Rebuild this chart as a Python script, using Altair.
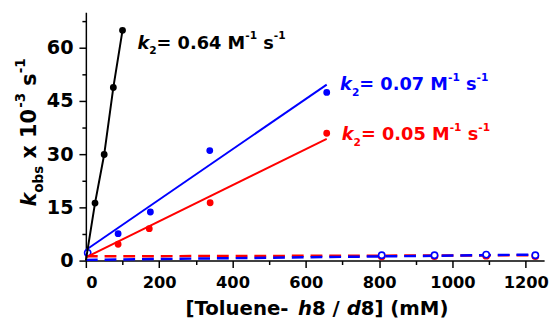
import altair as alt
import pandas as pd

# ---------------- data ----------------
black_x = [25, 50, 75, 100]
black_y = [16.2, 29.9, 48.8, 64.9]
black_line_x = [0, 25, 50, 75, 100]
black_line_y = [0.0, 16.2, 29.9, 48.8, 64.9]

blue_x = [88, 176, 338, 657]
blue_y = [7.6, 13.7, 31.0, 47.4]
blue_fit_x = [0, 657]
blue_fit_y = [3.0, 49.6]

red_x = [88, 173, 339, 657]
red_y = [4.6, 9.0, 16.3, 35.9]
red_fit_x = [0, 657]
red_fit_y = [0.9, 34.3]

blue_d_x = [5, 807, 951, 1092, 1226]
blue_d_y = [2.2, 1.5, 1.5, 1.7, 1.5]
blue_dfit_x = [0, 1230]
blue_dfit_y = [0.2, 1.7]

red_d_x = [807, 951, 1092, 1226]
red_d_y = [1.2, 1.3, 1.4, 1.3]
red_dfit_x = [0, 1230]
red_dfit_y = [1.2, 1.5]

x_major = [0, 200, 400, 600, 800, 1000, 1200]
x_minor = [100, 300, 500, 700, 900, 1100]
y_major = [0, 15, 30, 45, 60]
y_minor = [7.5, 22.5, 37.5, 52.5, 67.5]

BLACK, BLUE, RED = "#000000", "#0000FF", "#FF0000"
FONT = "DejaVu Sans"
W_PLOT, H_PLOT = 465, 252
OX, OY = 87, 10  # absolute page position of the plot origin

xs = alt.Scale(domain=[0, 1250], nice=False, zero=False)
ys = alt.Scale(domain=[0, 70], nice=False, zero=False)


def df(xv, yv):
    return pd.DataFrame({"x": xv, "y": yv})


def enc(chart, axis_x=None, axis_y=None):
    return chart.encode(
        x=alt.X("x:Q", scale=xs, axis=axis_x),
        y=alt.Y("y:Q", scale=ys, axis=axis_y),
    )


layers = []

# dashed lines (red under blue)
layers.append(enc(alt.Chart(df(red_dfit_x, red_dfit_y)).mark_line(
    color=RED, strokeWidth=2.5, strokeDash=[12, 7])))
layers.append(enc(alt.Chart(df(red_d_x, red_d_y)).mark_point(
    shape="circle", filled=True, fill="white", stroke=RED, strokeWidth=1.6, size=40, opacity=1)))
layers.append(enc(alt.Chart(df(blue_dfit_x, blue_dfit_y)).mark_line(
    color=BLUE, strokeWidth=2.5, strokeDash=[12, 7])))
layers.append(enc(alt.Chart(df(blue_d_x, blue_d_y)).mark_point(
    shape="circle", filled=True, fill="white", stroke=BLUE, strokeWidth=1.6, size=40, opacity=1)))

# fit lines
layers.append(enc(alt.Chart(df(red_fit_x, red_fit_y)).mark_line(color=RED, strokeWidth=2)))
layers.append(enc(alt.Chart(df(blue_fit_x, blue_fit_y)).mark_line(color=BLUE, strokeWidth=2)))
layers.append(enc(alt.Chart(df(black_line_x, black_line_y)).mark_line(color=BLACK, strokeWidth=2)))

# filled points
layers.append(enc(alt.Chart(df(red_x, red_y)).mark_circle(color=RED, size=48, opacity=1)))
layers.append(enc(alt.Chart(df(blue_x, blue_y)).mark_circle(color=BLUE, size=48, opacity=1)))

# black points carry the major axes
major_x_axis = alt.Axis(values=x_major, orient="bottom", title=None, grid=False,
                        tickSize=7, labelPadding=7, labelFontSize=16.5, format="d")
major_y_axis = alt.Axis(values=y_major, orient="left", title=None, grid=False,
                        tickSize=7, labelPadding=6, labelFontSize=19.5, format="d")
layers.append(enc(alt.Chart(df(black_x, black_y)).mark_circle(color=BLACK, size=48, opacity=1),
                  major_x_axis, major_y_axis))

# invisible layer carrying the minor ticks
minor_x_axis = alt.Axis(values=x_minor, orient="bottom", title=None, grid=False,
                        labels=False, domain=False, tickSize=4)
minor_y_axis = alt.Axis(values=y_minor, orient="left", title=None, grid=False,
                        labels=False, domain=False, tickSize=4)
layers.append(enc(alt.Chart(df(black_x, black_y)).mark_point(opacity=0),
                  minor_x_axis, minor_y_axis))

# ---------------- rich text built from pieces ----------------
WID = {" ": 0.348, "0": 0.696, "1": 0.696, "2": 0.696, "3": 0.696, "4": 0.696,
       "5": 0.696, "6": 0.696, "7": 0.696, "8": 0.696, "9": 0.696, ".": 0.382,
       "=": 0.838, "M": 0.996, "s": 0.595, "k": 0.665, "-": 0.415, "x": 0.712,
       "o": 0.686, "b": 0.716, "[": 0.457, "]": 0.457, "T": 0.682, "l": 0.343,
       "u": 0.712, "e": 0.678, "n": 0.712, "h": 0.712, "/": 0.365, "d": 0.716,
       "(": 0.457, ")": 0.457, "m": 1.042}


def tw(s, size):
    return sum(WID.get(c, 0.6) for c in s) * size


def rich(parts, F, color, ax, ay, angle=0):
    """parts: (text, size factor, italic, shift factor up). ax, ay in plot coords."""
    out = []
    cur = 0.0
    for text, sf, ital, sh in parts:
        size = F * sf
        lead = len(text) - len(text.lstrip(" "))
        core = text.strip(" ")
        start = cur + tw(" " * lead, size)
        if angle == 0:
            px, py = ax + start, ay - sh * F
        else:
            px, py = ax - sh * F, ay - start
        out.append(
            alt.Chart(pd.DataFrame({"t": [core]})).mark_text(
                align="left", baseline="alphabetic", font=FONT, fontSize=size,
                fontWeight="bold", fontStyle="italic" if ital else "normal",
                color=color, angle=angle,
            ).encode(text="t:N", x=alt.value(px), y=alt.value(py))
        )
        cur += tw(text, size)
    return out, cur


def k2_parts(val):
    return [("k", 1, True, 0), ("2", 0.6, False, -0.3), ("= " + val + " M", 1, False, 0),
            ("-1", 0.6, False, 0.55), (" s", 1, False, 0), ("-1", 0.6, False, 0.55)]


AF = 18
t, _ = rich(k2_parts("0.64"), AF, BLACK, 139.3 - OX, 47 - OY)
layers += t
t, _ = rich(k2_parts("0.07"), AF, BLUE, 345 - OX, 89.3 - OY)
layers += t
t, _ = rich(k2_parts("0.05"), AF, RED, 346.7 - OX, 140 - OY)
layers += t

# x title
XF = 20
x_parts = [("[Toluene-", 1, False, 0), (" h", 1, True, 0), ("8 / ", 1, False, 0),
           ("d", 1, True, 0), ("8] (mM)", 1, False, 0)]
total = sum(tw(p[0], XF * p[1]) for p in x_parts)
t, _ = rich(x_parts, XF, BLACK, 321.5 - OX - total / 2, 317 - OY)
layers += t

# y title (rotated)
YF = 21
y_parts = [("k", 1, True, 0), ("obs", 0.65, False, -0.35), (" x 10", 1, False, 0),
           ("-3", 0.65, False, 0.5), (" s", 1, False, 0), ("-1", 0.65, False, 0.5)]
t, _ = rich(y_parts, YF, BLACK, 36 - OX, 207 - OY, angle=270)
layers += t

chart = alt.layer(*layers).resolve_axis(x="independent", y="independent").properties(
    width=W_PLOT, height=H_PLOT,
    autosize=alt.AutoSizeParams(type="none"),
    padding={"left": OX - 8, "top": OY - 8, "right": 8, "bottom": 60},
).configure_view(stroke=None).configure_axis(
    domainColor=BLACK, domainWidth=1.5, tickColor=BLACK, tickWidth=1.5,
    labelFont=FONT, labelFontWeight="bold", labelColor=BLACK,
)

chart.save("out.html", embed_options={"renderer": "svg", "actions": False})
